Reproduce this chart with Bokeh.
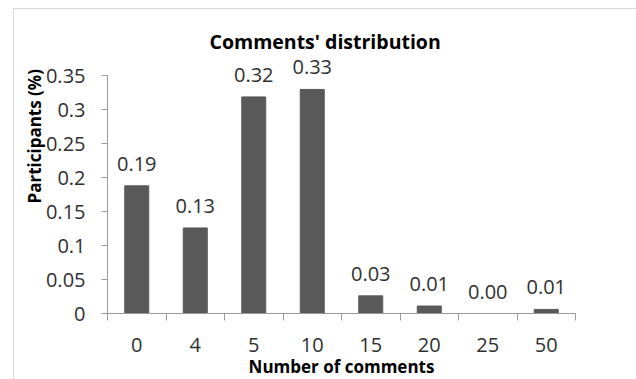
from bokeh.core.properties import value
from bokeh.embed import file_html
from bokeh.models import ColumnDataSource, FixedTicker, Title
from bokeh.plotting import figure
from bokeh.resources import INLINE

# Share of participants by number of comments written
categories = ["0", "4", "5", "10", "15", "20", "25", "50"]
participants = [0.188, 0.126, 0.319, 0.330, 0.026, 0.011, 0.0, 0.006]

y_ticks = [0, 0.05, 0.1, 0.15, 0.2, 0.25, 0.3, 0.35]
y_tick_labels = ["0", "0.05", "0.1", "0.15", "0.2", "0.25", "0.3", "0.35"]

title_text = "Comments' distribution"
x_title = "Number of comments"
y_title = "Participants (%)"

FONT = "Open Sans"
AXIS_GREY = "#9a9a9a"
BAR_GREY = "#595959"
TEXT_GREY = "#303030"

n = len(categories)
centers = [i + 0.5 for i in range(n)]
bar_labels = [f"{v:.2f}" for v in participants]
src = ColumnDataSource(dict(x=centers, top=participants, label=bar_labels))

# the frame reaches a little above the last tick so the value labels have room;
# the y axis line itself stops at the last tick via `bounds`
y_top = 0.38
px_per_unit = 238 / y_ticks[-1]

p = figure(
    frame_width=468, frame_height=round(y_top * px_per_unit),
    x_range=(0, n), y_range=(0, y_top),
    min_border_left=93, min_border_right=62,
    min_border_top=46, min_border_bottom=58,
    margin=(8, 0, 0, 13),
    output_backend="svg", toolbar_location=None,
    styles={"border-top": "1px solid #d9d9d9", "border-left": "1px solid #d9d9d9"},
)
p.background_fill_color = "white"
p.border_fill_color = "white"
p.outline_line_color = None
p.xgrid.visible = False
p.ygrid.visible = False

p.title.text = title_text
p.title.align = "left"
p.title.offset = 102
p.title.standoff = 1
p.title.text_font = FONT
p.title.text_font_size = "19.5px"
p.title.text_font_style = "bold"
p.title.text_color = "black"

p.vbar(x="x", top="top", width=0.41, bottom=0, source=src,
       fill_color=BAR_GREY, line_color=BAR_GREY)

p.text(x="x", y="top", text="label", source=src,
       text_align="center", text_baseline="alphabetic", y_offset=-22,
       text_font=value(FONT), text_font_size="20px", text_color=TEXT_GREY)

# x axis: labels under bar centres, ticks on category boundaries
xa = p.xaxis[0]
xa.ticker = FixedTicker(ticks=centers, minor_ticks=list(range(n + 1)))
xa.major_label_overrides = {c: lab for c, lab in zip(centers, categories)}
xa.major_tick_in = 0
xa.major_tick_out = 0
xa.minor_tick_in = 0
xa.minor_tick_out = 7
xa.minor_tick_line_color = AXIS_GREY
xa.axis_line_color = AXIS_GREY
xa.major_label_standoff = 17
xa.major_label_text_font = FONT
xa.major_label_text_font_size = "20px"
xa.major_label_text_color = TEXT_GREY
xa.axis_label = x_title
xa.axis_label_standoff = 0
xa.axis_label_text_font = FONT
xa.axis_label_text_font_size = "17px"
xa.axis_label_text_font_style = "bold"
xa.axis_label_text_color = "black"

ya = p.yaxis[0]
ya.bounds = (0, y_ticks[-1])
ya.ticker = FixedTicker(ticks=y_ticks, minor_ticks=[])
ya.major_label_overrides = {t: lab for t, lab in zip(y_ticks, y_tick_labels)}
ya.major_tick_in = 0
ya.major_tick_out = 6
ya.major_tick_line_color = AXIS_GREY
ya.axis_line_color = AXIS_GREY
ya.major_label_standoff = 16
ya.major_label_text_font = FONT
ya.major_label_text_font_size = "20px"
ya.major_label_text_color = TEXT_GREY

# vertical axis title, nudged up along the axis and tucked against the tick labels
p.add_layout(Title(
    text=y_title, align="left", offset=110, standoff=-7,
    text_font=FONT, text_font_size="17px", text_font_style="bold",
    text_color="black",
), "left")

open("out.html", "w").write(file_html(p, INLINE))
